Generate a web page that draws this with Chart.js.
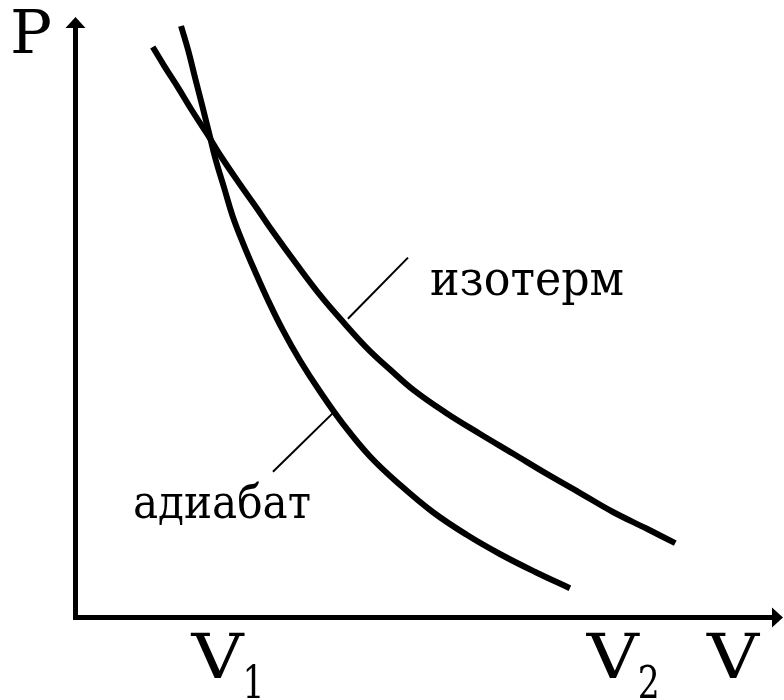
<!DOCTYPE html>
<html lang="ru">

<head>
    <meta charset="UTF-8">
    <title>Изотерма и адиабата</title>
    <script src="https://cdn.jsdelivr.net/npm/chart.js"></script>
    <style>
        body { margin: 0; background: #fff; }
        #wrap { width: 784px; height: 700px; }
    </style>
</head>

<body>
    <div id="wrap"><canvas id="pv"></canvas></div>

    <script>
        // P-V diagram, arbitrary units 0..10 on both axes
        const adiabatV = [1.50, 1.60, 1.70, 1.80, 1.90, 1.99, 2.11, 2.23, 2.38, 2.55, 2.73, 2.94, 3.18, 3.47, 3.79, 4.17, 4.60, 5.06, 5.54, 6.01, 6.51, 7.00];
        const adiabatP = [9.85, 9.45, 8.98, 8.52, 8.05, 7.62, 7.15, 6.68, 6.22, 5.75, 5.28, 4.78, 4.28, 3.75, 3.22, 2.68, 2.20, 1.75, 1.37, 1.05, 0.75, 0.48];

        const isothermV = [1.10, 1.27, 1.46, 1.65, 1.87, 2.08, 2.31, 2.55, 2.80, 3.14, 3.49, 3.82, 4.14, 4.46, 4.79, 5.25, 5.73, 6.20, 6.68, 7.14, 7.61, 8.09, 8.49];
        const isothermP = [9.50, 9.17, 8.82, 8.45, 8.05, 7.65, 7.25, 6.85, 6.42, 5.87, 5.33, 4.88, 4.47, 4.12, 3.78, 3.40, 3.05, 2.72, 2.38, 2.07, 1.75, 1.47, 1.23];

        // leader lines from the curve names to the curves
        const isoLeaderV = [3.86, 4.71];
        const isoLeaderP = [4.97, 5.99];
        const adiLeaderV = [2.80, 3.64];
        const adiLeaderP = [2.42, 3.39];

        // marks under the V axis
        const volumeTicks = ['V', 'V'];
        const volumeSubs = ['1', '2'];
        const volumeAt = [1.86, 7.45];

        const curveNames = ['изотерм', 'адиабат'];

        const pts = (xs, ys) => xs.map((x, i) => ({ x: x, y: ys[i] }));
        const FONT = '"DejaVu Serif", serif';

        const curve = (data) => ({
            data: data,
            borderColor: '#000',
            borderWidth: 6,
            pointRadius: 0,
            fill: false,
            tension: 0.4
        });
        const leader = (data) => ({
            data: data,
            borderColor: '#000',
            borderWidth: 2,
            pointRadius: 0,
            fill: false
        });

        // axes with arrows and all captions
        const pvDecor = {
            id: 'pvDecor',
            beforeDatasetsDraw(chart) {
                const ctx = chart.ctx;
                const xs = chart.scales.x, ys = chart.scales.y;
                const x0 = xs.getPixelForValue(0) + 0.5;
                const y0 = ys.getPixelForValue(0) + 0.5;
                const top = ys.getPixelForValue(10);
                const right = chart.width - 1;

                ctx.save();
                ctx.strokeStyle = '#000';
                ctx.fillStyle = '#000';
                ctx.lineWidth = 5;
                ctx.lineJoin = 'miter';
                ctx.beginPath();
                ctx.moveTo(x0, top + 8);
                ctx.lineTo(x0, y0);
                ctx.lineTo(right - 8, y0);
                ctx.stroke();

                // arrow heads
                ctx.beginPath();
                ctx.moveTo(x0, top);
                ctx.lineTo(x0 - 10, top + 11);
                ctx.lineTo(x0 + 10, top + 11);
                ctx.closePath();
                ctx.fill();
                ctx.beginPath();
                ctx.moveTo(right, y0);
                ctx.lineTo(right - 11, y0 - 10);
                ctx.lineTo(right - 11, y0 + 10);
                ctx.closePath();
                ctx.fill();
                ctx.restore();
            },
            afterDatasetsDraw(chart) {
                const ctx = chart.ctx;
                const xs = chart.scales.x;
                ctx.save();
                ctx.fillStyle = '#000';
                ctx.textBaseline = 'alphabetic';
                ctx.textAlign = 'left';

                const fitted = (text, x, y, size, width) => {
                    ctx.font = size + 'px ' + FONT;
                    const w = ctx.measureText(text).width;
                    ctx.save();
                    ctx.translate(x, y);
                    ctx.scale(width / w, 1);
                    ctx.fillText(text, 0, 0);
                    ctx.restore();
                };

                fitted('P', 10, 53, 60, 42);
                fitted('V', 707, 678, 62, 52);

                volumeTicks.forEach((t, i) => {
                    const cx = xs.getPixelForValue(volumeAt[i]);
                    fitted(t, cx - 15, 678, 62, 52);
                    fitted(volumeSubs[i], cx + 36, 698, 44, 22);
                });

                fitted(curveNames[0], 430, 295, 48, 194);
                fitted(curveNames[1], 133, 518, 46, 178);
                ctx.restore();
            }
        };

        new Chart(document.getElementById('pv'), {
            type: 'line',
            data: {
                datasets: [
                    curve(pts(isothermV, isothermP)),
                    curve(pts(adiabatV, adiabatP)),
                    leader(pts(isoLeaderV, isoLeaderP)),
                    leader(pts(adiLeaderV, adiLeaderP))
                ]
            },
            options: {
                responsive: true,
                maintainAspectRatio: false,
                animation: false,
                layout: { padding: { left: 75, top: 17, right: 2, bottom: 83 } },
                plugins: { legend: { display: false }, tooltip: { enabled: false } },
                scales: {
                    x: { type: 'linear', min: 0, max: 10, display: false },
                    y: { type: 'linear', min: 0, max: 10, display: false }
                }
            },
            plugins: [pvDecor]
        });
    </script>
</body>

</html>
